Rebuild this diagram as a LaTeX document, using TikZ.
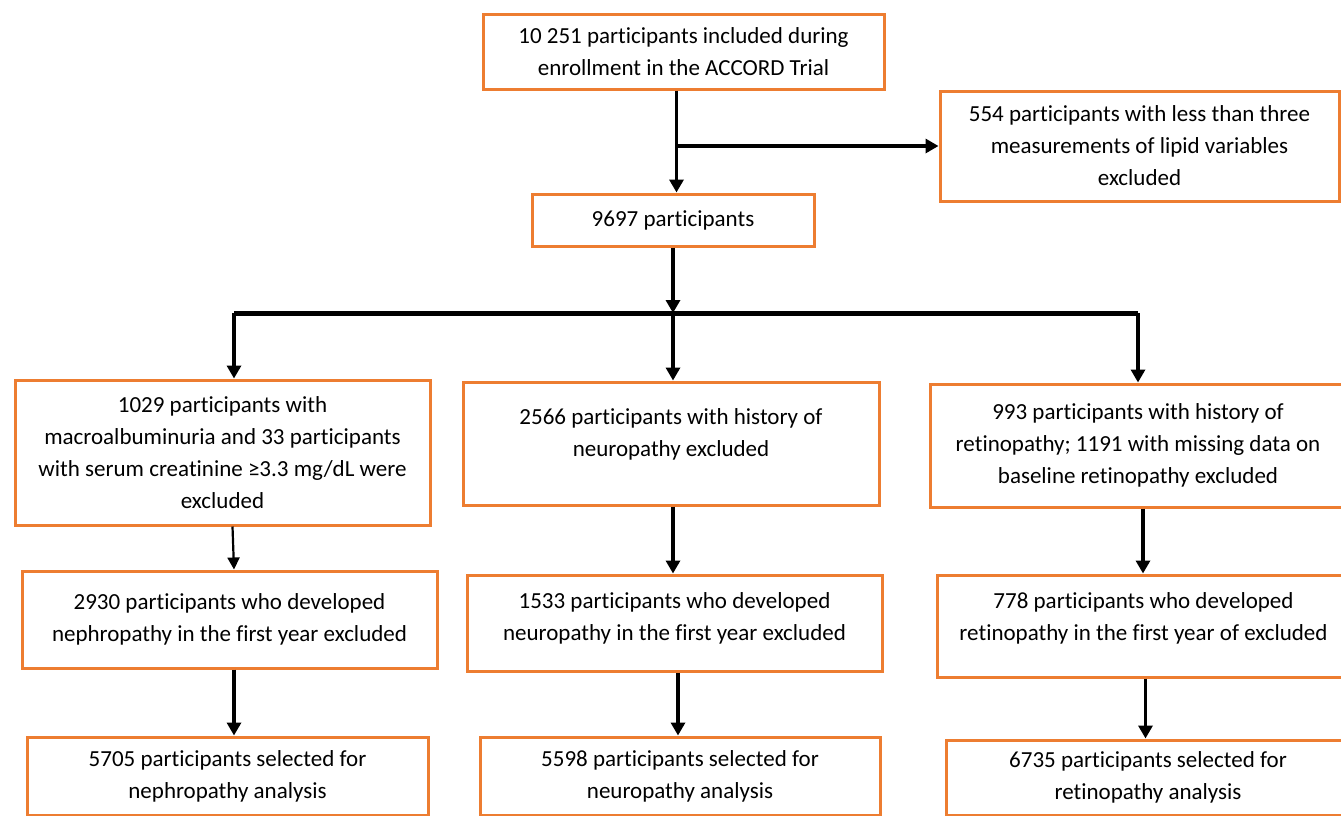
\documentclass[tikz,border=0pt]{standalone}
\usepackage{fontspec}
\setmainfont[Ligatures=NoCommon]{Carlito}
\usetikzlibrary{arrows.meta,calc}
\definecolor{boxorange}{RGB}{237,125,49}
\begin{document}
\begin{tikzpicture}[x=1pt,y=-1pt,
  box/.style={draw=boxorange, line width=3pt, fill=white, rectangle, align=center,
    inner sep=0pt, font=\fontsize{23}{32}\selectfont},
  arr/.style={line width=3.6pt, -{Triangle[length=13pt,width=14pt]}},
  thinarr/.style={line width=2.2pt, -{Triangle[length=12pt,width=12pt]}},
  barline/.style={line width=5pt}]
\useasboundingbox (0,0) rectangle (1341,815);
\clip (0,0) rectangle (1341,815);
\fill[white] (0,0) rectangle (1341,815);

\node[box, minimum width=401pt, minimum height=75pt] (top) at (683.5,51.5)
  {10 251 participants included during\\enrollment in the ACCORD Trial};
\node[box, minimum width=399pt, minimum height=110pt] (excl) at (1139.5,146)
  {554 participants with less than three\\measurements of lipid variables\\excluded};
\node[box, minimum width=282pt, minimum height=52pt] (n9697) at (673,220)
  {9697 participants};

\node[box, minimum width=415pt, minimum height=145pt] (neph1) at (222.5,452.5)
  {1029 participants with\\macroalbuminuria and 33 participants\\with serum creatinine ≥3.3 mg/dL were\\excluded};
\node[box, minimum width=416pt, minimum height=123pt] (neur1) at (671,443.5)
  {2566 participants with history of\\neuropathy excluded\\[-10pt]\mbox{}};
\node[box, minimum width=416pt, minimum height=123pt] (ret1) at (1138,445.5)
  {993 participants with history of\\retinopathy; 1191 with missing data on\\baseline retinopathy excluded};

\node[box, minimum width=415pt, minimum height=97pt] (neph2) at (229.5,619.5)
  {2930 participants who developed\\nephropathy in the first year excluded};
\node[box, minimum width=415pt, minimum height=96pt] (neur2) at (674.5,623)
  {1533 participants who developed\\neuropathy in the first year excluded\\[-19pt]\mbox{}};
\node[box, minimum width=413pt, minimum height=102pt] (ret2) at (1143.5,626)
  {778 participants who developed\\retinopathy in the first year of excluded\\[-13pt]\mbox{}};

\node[box, minimum width=401pt, minimum height=78pt] (neph3) at (227.5,776)
  {5705 participants selected for\\nephropathy analysis};
\node[box, minimum width=400pt, minimum height=78pt] (neur3) at (680,776)
  {5598 participants selected for\\neuropathy analysis};
\node[box, minimum width=404pt, minimum height=75pt] (ret3) at (1148,777.5)
  {6735 participants selected for\\retinopathy analysis};

% top to 9697 and exclusion branch
\draw[arr] ([xshift=-7pt]top.south) -- ([xshift=-7pt]top.south |- n9697.north);
\draw[arr] ([xshift=-7pt]top.south |- excl.west) -- (excl.west);

% split bar
\coordinate (barL) at (234,313);
\coordinate (barC) at (673,313);
\coordinate (barR) at (1138,313);
\draw[barline] (barL) -- (barR);
\draw[arr] (n9697.south) -- (barC);
\draw[arr] (barL) -- (barL |- neph1.north);
\draw[arr] (barC) -- (barC |- neur1.north);
\draw[arr] (barR) -- (barR |- ret1.north);

% row 2 to row 3
\draw[thinarr] ([xshift=10pt]neph1.south) -- ([xshift=4.5pt]neph2.north);
\draw[arr] ([xshift=2pt]neur1.south) -- ([xshift=2pt]neur1.south |- neur2.north);
\draw[arr] ([xshift=5pt]ret1.south) -- ([xshift=5pt]ret1.south |- ret2.north);

% row 3 to row 4
\draw[arr] ([xshift=4.5pt]neph2.south) -- ([xshift=4.5pt]neph2.south |- neph3.north);
\draw[arr] ([xshift=3.5pt]neur2.south) -- ([xshift=3.5pt]neur2.south |- neur3.north);
\draw[arr] ([xshift=2pt]ret2.south) -- ([xshift=2pt]ret2.south |- ret3.north);
\end{tikzpicture}
\end{document}
